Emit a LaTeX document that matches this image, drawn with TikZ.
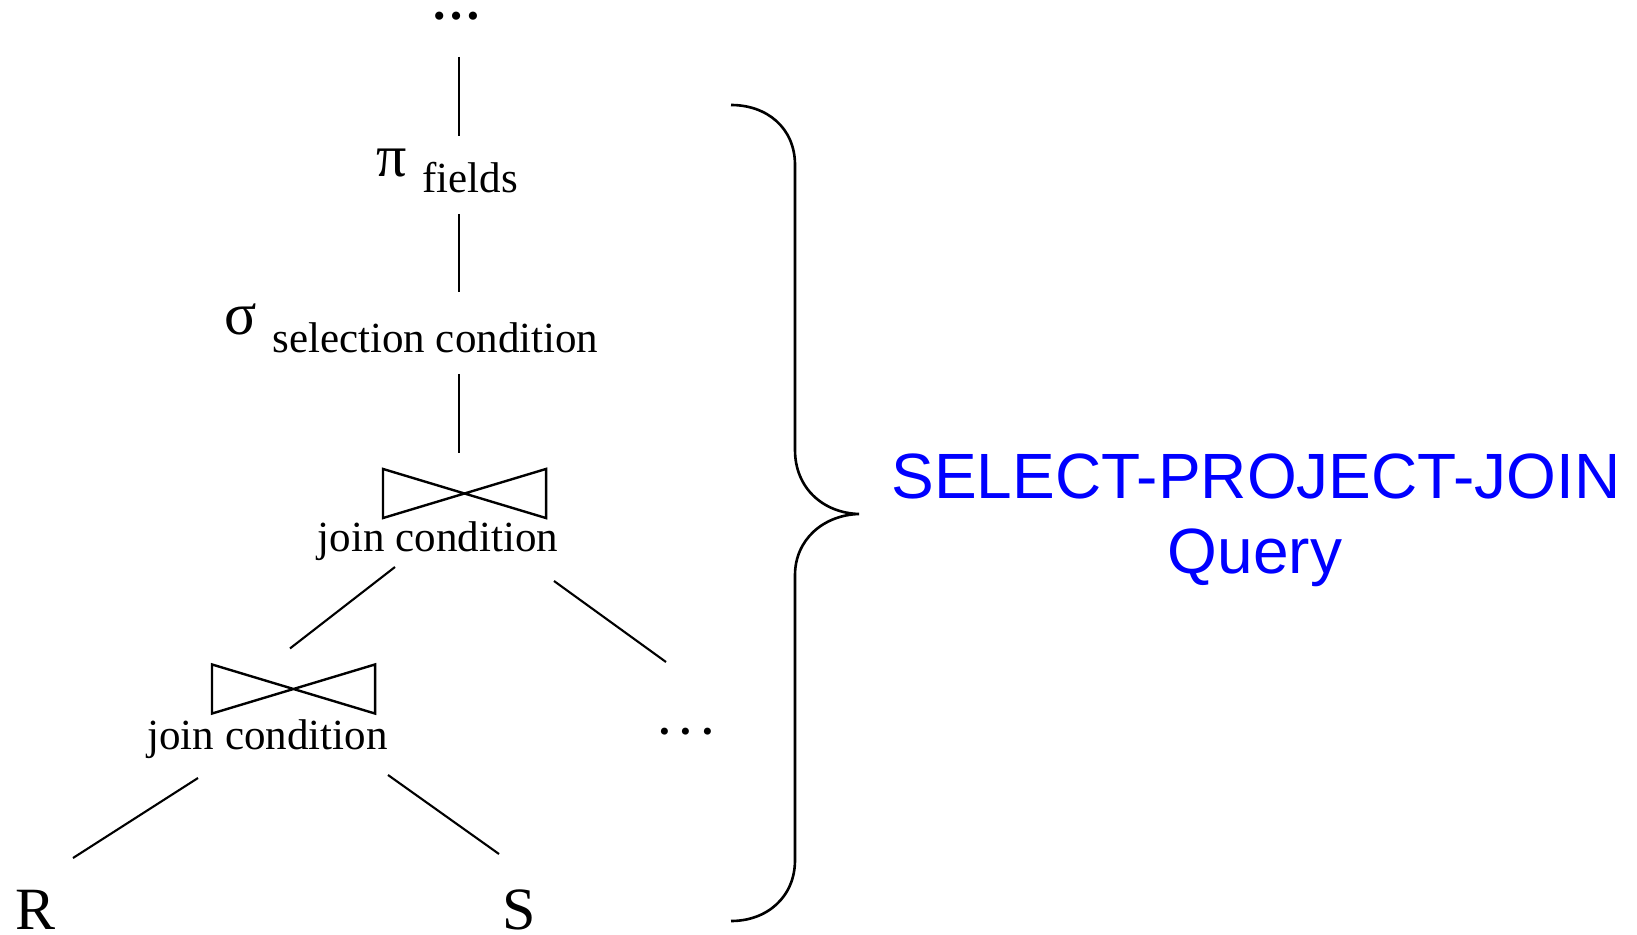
\documentclass[tikz,border=0pt]{standalone}
\usepackage{fontspec}
\setmainfont{Liberation Serif}
\newfontfamily\arialfont{Liberation Sans}

\newcommand{\opsym}[1]{{\fontsize{30}{30}\selectfont #1}}
\newcommand{\opsub}[2]{\raisebox{-#1}{#2}}

\begin{document}
\begin{tikzpicture}[x=0.5pt,y=-0.5pt,line width=1.05pt,
  txt/.style={inner sep=0pt,font=\fontsize{21.5}{25}\selectfont},
  rel/.style={inner sep=0pt,font=\fontsize{30}{30}\selectfont},
  bowtie/.style={inner sep=0pt,minimum width=80.5pt,minimum height=23.5pt},
  spj/.style={inner sep=0pt,text=blue,font=\arialfont\fontsize{32}{32}\selectfont}]
\useasboundingbox (0,0) rectangle (1637,935);

\node [txt,font=\bfseries\fontsize{25}{25}\selectfont,anchor=base] (topdots) at (456,19.5) {…};
\node [txt,anchor=base west] (proj) at (375,177) {\opsym{π}\hspace{8pt}\opsub{8pt}{fields}};
\node [txt,anchor=base west] (sel) at (223,335) {\opsym{σ}\hspace{8pt}\opsub{9pt}{selection condition}};
\node [bowtie] (join1) at (464.5,493.5) {};
\node [txt,anchor=base] (cond1) at (438,551) {join condition};
\node [bowtie] (join2) at (293.5,689) {};
\node [txt,anchor=base] (cond2) at (267.5,749) {join condition};
\node [txt,font=\bfseries\fontsize{21.5}{25}\selectfont,anchor=base] (rdots) at (686,734) {.\ .\ .};
\node [rel,anchor=base] (relR) at (35.5,929) {R};
\node [rel,anchor=base] (relS) at (519.5,929) {S};

% the join symbols
\foreach \j in {join1,join2}
  \draw [line width=1.2pt] (\j.north west) -- (\j.south west) -- (\j.north east) -- (\j.south east) -- cycle;

\draw [line width=1.35pt] ([shift={(3,37.5)}]topdots.base) -- ([shift={(84,-41)}]proj.base west);
\draw [line width=1.35pt] ([shift={(84,37)}]proj.base west) -- ([shift={(236,-43)}]sel.base west);
\draw [line width=1.35pt] ([shift={(236,39)}]sel.base west) -- ([shift={(-5.5,-16)}]join1.north);
\draw ([shift={(-43,16)}]cond1.base) -- ([shift={(-3.5,-16)}]join2.north);
\draw ([shift={(116,30)}]cond1.base) -- ([shift={(-20,-72)}]rdots.base);
\draw ([shift={(-69.5,29)}]cond2.base) -- ([shift={(37.5,-71)}]relR.base);
\draw ([shift={(120.5,26)}]cond2.base) -- ([shift={(-20.5,-75)}]relS.base);

% brace
\coordinate (tip) at (859,514);
\draw [line width=1.3pt] (731,105) .. controls (767,105) and (795,128) .. (795,165) -- (795,450)
  .. controls (795,488) and (823,513) .. (tip)
  .. controls (823,515) and (795,540) .. (795,575) -- (795,860)
  .. controls (795,897) and (767,921) .. (731,921);

\node [spj,anchor=base] (title) at (1256,498) {SELECT-PROJECT-JOIN};
\node [spj,anchor=base] (query) at (1255,573) {Query};
\end{tikzpicture}
\end{document}
